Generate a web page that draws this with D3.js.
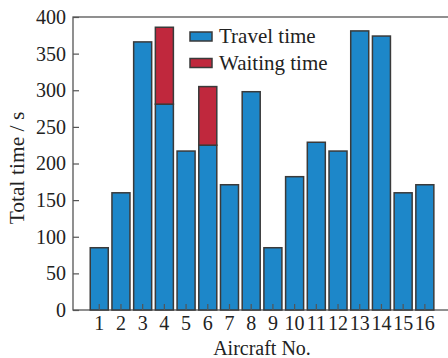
<!DOCTYPE html>
<html>
<head>
<meta charset="utf-8">
<script src="https://cdn.jsdelivr.net/npm/d3@7"></script>
<style>
body{margin:0;background:#fff;}
svg{display:block;}
text{font-family:"Liberation Serif","Times New Roman",serif;fill:#222;}
</style>
</head>
<body>
<svg id="c" width="448" height="358"></svg>
<script>
const aircraft = [1,2,3,4,5,6,7,8,9,10,11,12,13,14,15,16];
const travelTime = [85,160,366,281,217,225,171,298,85,182,229,217,381,374,160,171];
const waitingTime = [0,0,0,105,0,80,0,0,0,0,0,0,0,0,0,0];
const yTicks = [0,50,100,150,200,250,300,350,400];
const seriesNames = ["Travel time","Waiting time"];
const colors = ["#1d87c9","#c0283d"];

const svg = d3.select("#c");
const L = 73, T = 17, B = 310, R = 470;
const x = d3.scaleBand().domain(aircraft).range([88.4, 435.7]).paddingInner(0.17).paddingOuter(0.085);
const y = d3.scaleLinear().domain([0,400]).range([B, T]);

// frame
svg.append("rect").attr("x",L).attr("y",T).attr("width",R-L).attr("height",B-T)
  .attr("fill","none").attr("stroke","#555").attr("stroke-width",1.3);

const stack = aircraft.map((a,i)=>({a, t:travelTime[i], w:waitingTime[i]}));
const g = svg.append("g");
g.selectAll("rect.t").data(stack).join("rect")
  .attr("x",d=>x(d.a)).attr("width",x.bandwidth())
  .attr("y",d=>y(d.t)).attr("height",d=>y(0)-y(d.t))
  .attr("fill",colors[0]).attr("stroke","#3a3a3a").attr("stroke-width",1.5);
g.selectAll("rect.w").data(stack.filter(d=>d.w>0)).join("rect")
  .attr("x",d=>x(d.a)).attr("width",x.bandwidth())
  .attr("y",d=>y(d.t+d.w)).attr("height",d=>y(d.t)-y(d.t+d.w))
  .attr("fill",colors[1]).attr("stroke","#3a3a3a").attr("stroke-width",1.5);

// y axis
const ya = svg.append("g").attr("transform",`translate(${L},0)`)
  .call(d3.axisLeft(y).tickValues(yTicks).tickSize(-6).tickPadding(7));
ya.select(".domain").remove();
ya.selectAll(".tick line").attr("stroke","#555").attr("stroke-width",1.2);
ya.selectAll(".tick text").attr("font-size",20).attr("fill","#222").attr("font-family","Liberation Serif");

// x axis
const xa = svg.append("g").attr("transform",`translate(0,${B})`)
  .call(d3.axisBottom(x).tickSize(-6).tickPadding(6));
xa.select(".domain").remove();
xa.selectAll(".tick line").attr("stroke","#555").attr("stroke-width",1.2);
xa.selectAll(".tick text").attr("font-size",20).attr("fill","#222").attr("font-family","Liberation Serif");

// axis titles
svg.append("text").attr("x",262).attr("y",355).attr("text-anchor","middle")
  .attr("font-size",20).text("Aircraft No.");
svg.append("text").attr("transform","translate(24,168) rotate(-90)").attr("text-anchor","middle")
  .attr("font-size",21.5).text("Total time / s");

// legend
const lg = svg.append("g");
seriesNames.forEach((n,i)=>{
  const yy = 32 + i*26.5;
  lg.append("rect").attr("x",190).attr("y",yy).attr("width",22).attr("height",9)
    .attr("fill",colors[i]).attr("stroke","#3a3a3a").attr("stroke-width",1.5);
  lg.append("text").attr("x",219).attr("y",yy+11).attr("font-size",21).text(n);
});
</script>
</body>
</html>
